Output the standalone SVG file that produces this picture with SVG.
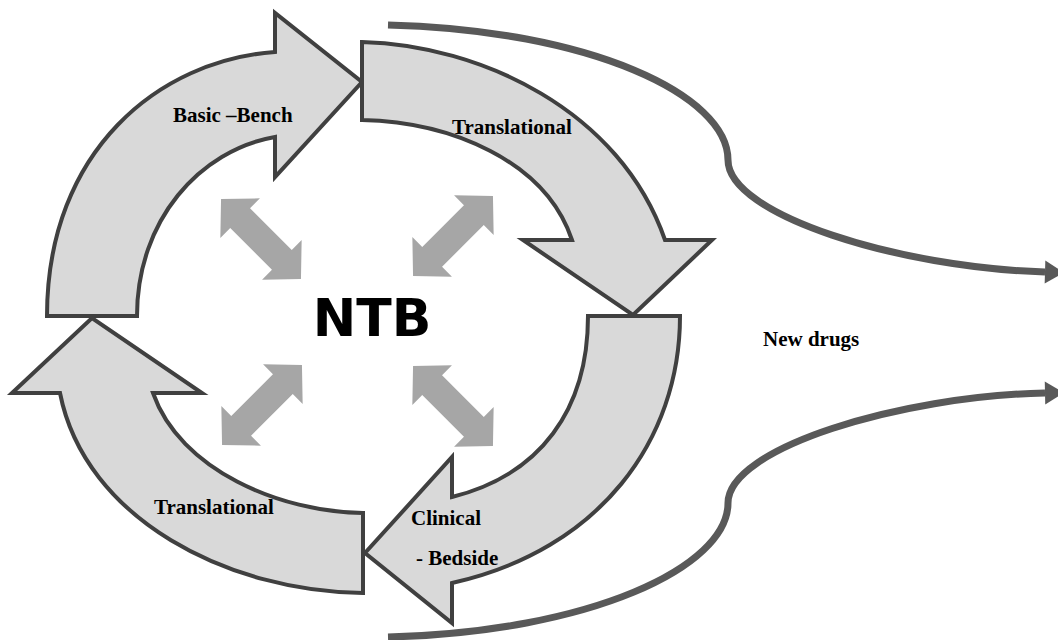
<svg xmlns="http://www.w3.org/2000/svg" width="1058" height="640" viewBox="0 0 1058 640">
  <style>
    .ring { fill: #d9d9d9; stroke: #404040; stroke-width: 4; stroke-linejoin: miter; }
    .lbl { font-family: "Liberation Serif", "Times New Roman", serif; font-weight: bold; font-size: 21px; fill: #000; }
    .ntb { font-family: "DejaVu Sans", Verdana, sans-serif; font-weight: bold; font-size: 52px; fill: #000; }
    .flow { fill: none; stroke: #595959; stroke-width: 7; stroke-linecap: butt; }
    .dbl { fill: #a6a6a6; }
  </style>
  <defs>
    <marker id="head" markerUnits="userSpaceOnUse" markerWidth="24" markerHeight="26" refX="0" refY="12" orient="auto" viewBox="0 0 24 24" overflow="visible">
      <path d="M0,0.5 L19,12 L0,23.5 z" fill="#595959"/>
    </marker>
    <path id="dblarrow" d="M-56.5,0 L-29.5,-28 L-29.5,-14 L29.5,-14 L29.5,-28 L56.5,0 L29.5,28 L29.5,14 L-29.5,14 L-29.5,28 Z"/>
  </defs>
  <rect width="1058" height="640" fill="#ffffff"/>

  <g id="connectors">
    <path class="flow" d="M388,25 C590,30 728,95 728,160 C728,215 900,268 1045,272" marker-end="url(#head)"/>
    <path class="flow" d="M388,637 C590,632 728,567 728,503 C728,448 900,396 1045,393" marker-end="url(#head)"/>
    <use href="#dblarrow" class="dbl" transform="translate(261,239) rotate(45)"/>
    <use href="#dblarrow" class="dbl" transform="translate(453,236) rotate(-45)"/>
    <use href="#dblarrow" class="dbl" transform="translate(262,405) rotate(-45)"/>
    <use href="#dblarrow" class="dbl" transform="translate(453,406) rotate(45)"/>
  </g>

  <g id="basic-bench">
    <path class="ring" d="M47,316 C47,150 160,60 275,52 L275,13 L362,82 L275,177 L275,137 C200,150 137,220 137,316 Z"/>
    <text class="lbl" x="173" y="122">Basic –Bench</text>
  </g>

  <g id="translational-top">
    <path class="ring" d="M362,42 C480,45 620,110 665,240 L712,240 L633,315 L523,240 L572,240 C545,160 450,122 362,120 Z"/>
    <text class="lbl" x="452" y="134">Translational</text>
  </g>

  <g id="clinical-bedside">
    <path class="ring" d="M680,316 C680,440 600,550 452,583 L452,623 L365,553 L452,457 L452,497 C540,475 588,410 588,316 Z"/>
    <text class="lbl" x="411" y="525">Clinical</text>
    <text class="lbl" x="416" y="565">- Bedside</text>
  </g>

  <g id="translational-bottom">
    <path class="ring" d="M363,593 C230,592 85,520 60,393 L12,393 L92,318 L202,393 L153,393 C180,470 280,512 363,513 Z"/>
    <text class="lbl" x="154" y="514">Translational</text>
  </g>

  <g id="ntb">
    <text class="ntb" x="372" y="336" text-anchor="middle">NTB</text>
  </g>

  <g id="new-drugs">
    <text class="lbl" x="763" y="346">New drugs</text>
  </g>
</svg>
